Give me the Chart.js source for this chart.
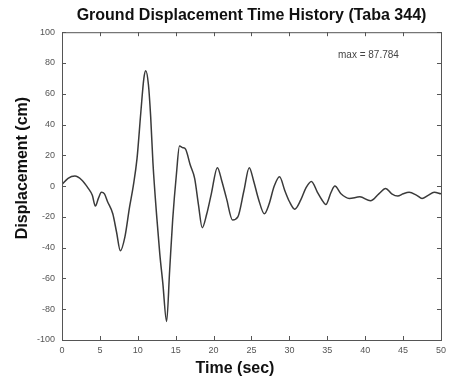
<!DOCTYPE html>
<html>
<head>
<meta charset="utf-8">
<script src="https://cdn.jsdelivr.net/npm/chart.js@4.4.1/dist/chart.umd.min.js"></script>
<style>
  html, body { margin: 0; padding: 0; background: #fff; }
  canvas { display: block; }
</style>
</head>
<body>
<canvas id="chart" width="451" height="380"></canvas>
<script>
// data (time in sec, displacement in cm)
const timeSec = [0, 0.8, 1.7, 2.6, 3.4, 4.0, 4.4, 4.8, 5.2, 5.6, 6.0, 6.7, 7.2, 7.7, 8.3, 8.9, 9.4, 9.9,
  10.4, 10.8, 11.05, 11.4, 11.7, 12.0, 12.5, 12.9, 13.3, 13.8, 14.2, 14.6, 15.1, 15.5, 15.9, 16.3,
  16.9, 17.5, 18.0, 18.5, 19.1, 19.7, 20.5, 21.1, 21.7, 22.5, 23.2, 24.0, 24.7, 25.3, 25.9, 26.7,
  27.3, 28.0, 28.7, 29.4, 30.0, 30.7, 31.5, 32.2, 32.9, 33.7, 34.3, 34.8, 35.5, 36.0, 36.8, 37.9,
  39.3, 40.7, 41.8, 42.7, 43.5, 44.3, 45.0, 45.8, 46.8, 47.5, 48.3, 49.1, 50.0];
const displacement = [1, 5, 6.5, 4, -1, -6, -13, -8, -4, -5, -10, -18, -30, -42, -33, -14, 0, 18,
  48, 70, 75, 66, 45, 15, -20, -44, -63, -88, -55, -22, 8, 26, 25, 24,
  14, 5, -12, -27, -18, -5, 12, 3, -8, -22, -20, -3, 12, 3, -8, -18,
  -12, 0, 6, -3, -10, -15, -9, -1, 3, -4, -9, -12, -4, 0, -5, -8,
  -7, -9.5, -5, -1.5, -5, -6.5, -5, -4, -6, -8, -6, -4, -5];
const xTicks = [0, 5, 10, 15, 20, 25, 30, 35, 40, 45, 50];
const yTicks = [-100, -80, -60, -40, -20, 0, 20, 40, 60, 80, 100];
const titleText = 'Ground Displacement Time History (Taba 344)';
const xLabel = 'Time (sec)';
const yLabel = 'Displacement (cm)';
const maxNote = 'max = 87.784';

const points = timeSec.map((t, i) => ({ x: t, y: displacement[i] }));

// box, inward ticks, axis labels and the max note
const framePlugin = {
  id: 'frame',
  afterDraw(chart) {
    const { ctx, chartArea: a, scales } = chart;
    const x = scales.x, y = scales.y;
    ctx.save();
    ctx.strokeStyle = '#555';
    ctx.lineWidth = 1;
    ctx.strokeRect(a.left + 0.5, a.top + 0.5, a.right - a.left, a.bottom - a.top);
    ctx.beginPath();
    xTicks.forEach(v => {
      const px = Math.round(x.getPixelForValue(v)) + 0.5;
      ctx.moveTo(px, a.bottom); ctx.lineTo(px, a.bottom - 4);
      ctx.moveTo(px, a.top); ctx.lineTo(px, a.top + 4);
    });
    yTicks.forEach(v => {
      const py = Math.round(y.getPixelForValue(v)) + 0.5;
      ctx.moveTo(a.left, py); ctx.lineTo(a.left + 4, py);
      ctx.moveTo(a.right, py); ctx.lineTo(a.right - 4, py);
    });
    ctx.stroke();

    ctx.fillStyle = '#111';
    ctx.font = 'bold 16px "Liberation Sans", Arial, sans-serif';
    ctx.textAlign = 'center';
    ctx.textBaseline = 'middle';
    ctx.fillText(xLabel, 235, 369);
    ctx.save();
    ctx.translate(23, 168);
    ctx.rotate(-Math.PI / 2);
    ctx.fillText(yLabel, 0, 0);
    ctx.restore();

    ctx.fillStyle = '#444';
    ctx.font = '10px "Liberation Sans", Arial, sans-serif';
    ctx.textAlign = 'left';
    ctx.fillText(maxNote, 338, 55);
    ctx.restore();
  }
};

const ctx = document.getElementById('chart').getContext('2d');
new Chart(ctx, {
  type: 'line',
  data: {
    datasets: [{
      data: points,
      borderColor: '#3a3a3a',
      borderWidth: 1.5,
      pointRadius: 0,
      fill: false,
      cubicInterpolationMode: 'monotone'
    }]
  },
  options: {
    responsive: false,
    animation: false,
    layout: { padding: { top: 0, right: 9, bottom: 0, left: 0 } },
    plugins: {
      legend: { display: false },
      tooltip: { enabled: false },
      title: {
        display: true,
        text: titleText,
        fullSize: false,
        color: '#111',
        font: { family: '"Liberation Sans", Arial, sans-serif', size: 16, weight: 'bold' },
        padding: { top: 6, bottom: 7 }
      }
    },
    scales: {
      x: {
        type: 'linear',
        min: 0,
        max: 50,
        afterFit(scale) { scale.height = 40; },
        afterBuildTicks(scale) { scale.ticks = xTicks.map(v => ({ value: v })); },
        grid: { display: false, drawTicks: false },
        border: { display: false },
        ticks: {
          color: '#555',
          padding: 5,
          maxRotation: 0,
          font: { family: '"Liberation Sans", Arial, sans-serif', size: 9 }
        }
      },
      y: {
        min: -100,
        max: 100,
        afterFit(scale) { scale.width = 62; },
        afterBuildTicks(scale) { scale.ticks = yTicks.map(v => ({ value: v })); },
        grid: { display: false, drawTicks: false },
        border: { display: false },
        ticks: {
          color: '#555',
          padding: 7,
          font: { family: '"Liberation Sans", Arial, sans-serif', size: 9 }
        }
      }
    }
  },
  plugins: [framePlugin]
});
</script>
</body>
</html>
